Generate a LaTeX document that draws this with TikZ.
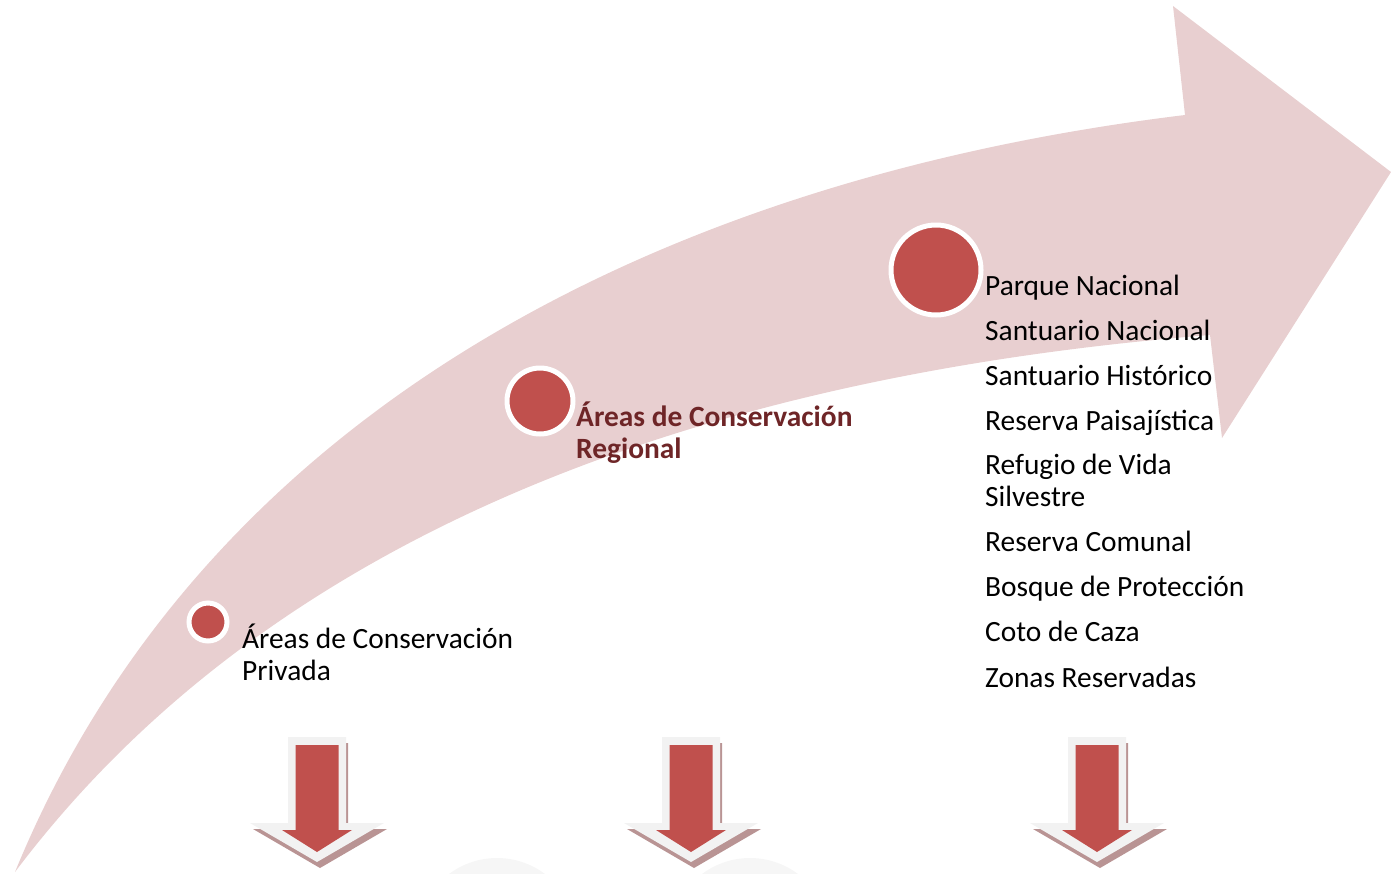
\documentclass[tikz,border=0pt]{standalone}
\usepackage{fontspec}
\setmainfont{Carlito}
\definecolor{bandpink}{HTML}{E8CFD0}
\definecolor{dotred}{HTML}{C0504D}
\definecolor{darkred}{HTML}{6E2527}
\definecolor{arrowgrey}{HTML}{F2F2F2}
\definecolor{arrowshadow}{HTML}{B99494}
\definecolor{faintgrey}{HTML}{F6F6F6}
\tikzset{
  band/.style={fill=bandpink},
  dot/.style={circle, fill=dotred, draw=white, line width=5pt, inner sep=0pt},
  lbl/.style={anchor=base west, inner sep=0pt, font=\fontsize{29.4}{32}\selectfont},
  boldlbl/.style={lbl, font=\fontsize{29.4}{32}\selectfont\bfseries, text=darkred},
  downarrow/.pic={
    \fill[arrowshadow] (-27,6) -- (31,6) -- (31,92) -- (70,92) -- (3,131) -- (-64,92) -- (-27,92) -- cycle;
    \fill[arrowgrey] (-29,0) -- (29,0) -- (29,86) -- (67,86) -- (0,125) -- (-67,86) -- (-29,86) -- cycle;
    \fill[dotred] (-21.5,8) -- (21.5,8) -- (21.5,93) -- (35,93) -- (0,115) -- (-35,93) -- (-21.5,93) -- cycle;
  }
}
\begin{document}
\begin{tikzpicture}[x=1pt,y=-1pt]
\useasboundingbox (0,0) rectangle (1391,873);
% faint background arcs at the bottom
\fill[faintgrey] (497,938) circle (80);
\fill[faintgrey] (750,938) circle (80);
% main curved arrow
\fill[band] (15,872) .. controls (200,420) and (650,180) .. (1185,115)
  -- (1173,6) -- (1391,172) -- (1222,438) -- (1210,335)
  .. controls (650,380) and (250,560) .. (15,872) -- cycle;
% dots
\node[dot, minimum size=38pt] (c1) at (208,622) {};
\node[dot, minimum size=66pt] (c2) at (540,401) {};
\node[dot, minimum size=90pt] (c3) at (936,270) {};
% labels
\node[lbl] (p1) at (242,648) {Áreas de Conservación};
\node[lbl] (p2) at (242,680) {Privada};
\node[boldlbl] (r1) at (576,426) {Áreas de Conservación};
\node[boldlbl] (r2) at (576,458) {Regional};
\node[lbl] (n1) at (985,295) {Parque Nacional};
\node[lbl] (n2) at (985,340) {Santuario Nacional};
\node[lbl] (n3) at (985,385) {Santuario Histórico};
\node[lbl] (n4) at (985,430) {Reserva Paisajística};
\node[lbl] (n5) at (985,474) {Refugio de Vida};
\node[lbl] (n5b) at (985,506) {Silvestre};
\node[lbl] (n6) at (985,551) {Reserva Comunal};
\node[lbl] (n7) at (985,596) {Bosque de Protección};
\node[lbl] (n8) at (985,641) {Coto de Caza};
\node[lbl] (n9) at (985,687) {Zonas Reservadas};
% down arrows
\pic at (317,737) {downarrow};
\pic at (691,737) {downarrow};
\pic at (1097,737) {downarrow};
\end{tikzpicture}
\end{document}
